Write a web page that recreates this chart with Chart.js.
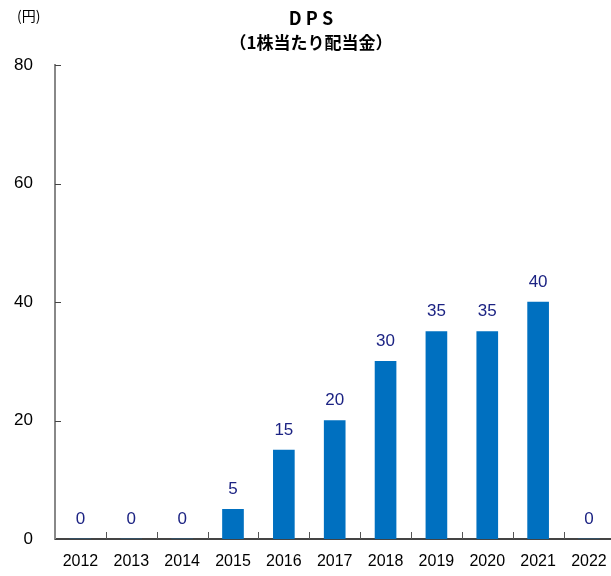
<!DOCTYPE html>
<html>
<head>
<meta charset="utf-8">
<script src="https://cdn.jsdelivr.net/npm/chart.js@4.4.0/dist/chart.umd.min.js"></script>
<style>
  body { margin: 0; overflow: hidden; background: #fff; }
  #wrap { width: 611px; height: 576px; overflow: hidden; }
</style>
</head>
<body>
<div id="wrap"><canvas id="myChart" width="620" height="576"></canvas></div>
<script>
const years = ['2012', '2013', '2014', '2015', '2016', '2017', '2018', '2019', '2020', '2021', '2022']
const dps = [0, 0, 0, 5, 15, 20, 30, 35, 35, 40, 0]
const yTicks = [0, 20, 40, 60, 80]

const jpFont = '"Noto Sans CJK JP", sans-serif'
const numFont = '"Liberation Sans", Arial, sans-serif'

// inward tick marks, value labels and titles
const extras = {
  id: 'extras',
  afterDraw(chart) {
    const ctx = chart.ctx
    const x = chart.scales.x
    const y = chart.scales.y
    const area = chart.chartArea
    ctx.save()
    ctx.strokeStyle = '#444'
    ctx.lineWidth = 1
    yTicks.forEach((v) => {
      const py = Math.round(y.getPixelForValue(v)) + 0.5
      ctx.beginPath()
      ctx.moveTo(area.left, py)
      ctx.lineTo(area.left + 6, py)
      ctx.stroke()
    })
    ctx.strokeStyle = '#555'
    for (let i = 1; i < years.length; i++) {
      const px = Math.round(x.getPixelForValue(i - 0.5)) + 0.5
      ctx.beginPath()
      ctx.moveTo(px, area.bottom)
      ctx.lineTo(px, area.bottom - 7)
      ctx.stroke()
    }
    ctx.fillStyle = '#1c2383'
    ctx.font = '17px ' + numFont
    ctx.textAlign = 'center'
    ctx.textBaseline = 'middle'
    chart.getDatasetMeta(0).data.forEach((bar, i) => {
      ctx.fillText(dps[i], bar.x, bar.y - 20)
    })
    ctx.fillStyle = '#000'
    ctx.font = 'bold 18px ' + jpFont
    ctx.fillText('D P S', 311, 18)
    ctx.font = 'bold 17px ' + jpFont
    ctx.fillText('（1株当たり配当金）', 311, 43)
    ctx.font = '14px ' + jpFont
    ctx.textAlign = 'left'
    ctx.fillText('(円)', 17, 16)
    ctx.restore()
  }
}

var ctx = document.getElementById('myChart')
var myChart = new Chart(ctx, {
  type: 'bar',
  data: {
    labels: years,
    datasets: [{
      label: 'DPS',
      data: dps,
      backgroundColor: '#0070c0',
      barThickness: 21
    }]
  },
  options: {
    responsive: false,
    animation: false,
    layout: { padding: { top: 65, right: 5, left: 0, bottom: 0 } },
    plugins: {
      legend: { display: false },
      tooltip: { enabled: false },
      title: { display: false }
    },
    scales: {
      x: {
        grid: { display: false, drawTicks: false },
        border: { display: true, color: '#444', width: 2 },
        ticks: { color: '#000', padding: 13, maxRotation: 0, font: { size: 16, family: numFont } },
        afterFit(scale) { scale.height = 37 }
      },
      y: {
        min: 0,
        max: 80,
        grid: { display: false, drawTicks: false },
        border: { display: true, color: '#888', width: 2 },
        afterBuildTicks(scale) { scale.ticks = yTicks.map((v) => ({ value: v })) },
        ticks: { color: '#000', padding: 22, font: { size: 17, family: numFont } },
        afterFit(scale) { scale.width = 55 }
      }
    }
  },
  plugins: [extras]
})
</script>
</body>
</html>
